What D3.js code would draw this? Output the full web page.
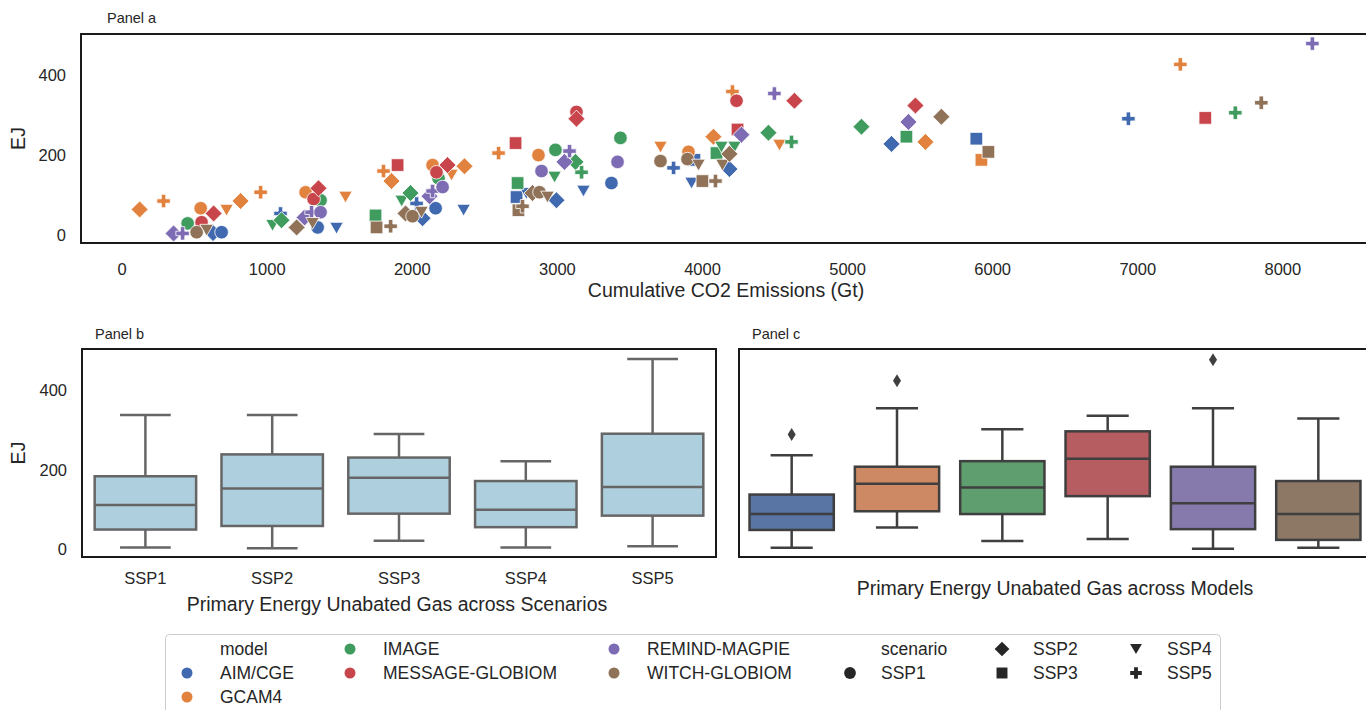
<!DOCTYPE html>
<html>
<head>
<meta charset="utf-8">
<script src="https://cdn.jsdelivr.net/npm/d3@7"></script>
<style>
  body { margin: 0; background: #fff; }
  text { font-family: "Liberation Sans", Arial, sans-serif; fill: #262626; }
</style>
</head>
<body>
<div id="chart"></div>
<script>
// categories
const modelNames = ['AIM/CGE', 'GCAM4', 'IMAGE', 'MESSAGE-GLOBIOM', 'REMIND-MAGPIE', 'WITCH-GLOBIOM']
const scenarioNames = ['SSP1', 'SSP2', 'SSP3', 'SSP4', 'SSP5']

// panel a points: [scenario, cumulative CO2 (Gt), gas (EJ)]
const aimCGE = [
  ['SSP2', 630, 6], ['SSP1', 689, 8], ['SSP5', 1095, 55], ['SSP1', 1351, 20], ['SSP4', 1481, 18],
  ['SSP5', 2033, 80], ['SSP2', 2074, 43], ['SSP1', 2164, 68], ['SSP4', 2357, 63], ['SSP3', 2722, 96],
  ['SSP4', 2790, 105], ['SSP2', 2997, 88], ['SSP4', 3183, 111], ['SSP1', 3376, 131], ['SSP5', 3804, 169],
  ['SSP3', 3948, 189], ['SSP4', 3928, 131], ['SSP2', 4189, 166], ['SSP2', 5306, 229], ['SSP3', 5891, 242],
  ['SSP5', 6939, 292]
]
const gcam4 = [
  ['SSP2', 124, 65], ['SSP5', 289, 86], ['SSP1', 545, 68], ['SSP4', 723, 63], ['SSP2', 820, 86],
  ['SSP5', 958, 108], ['SSP1', 1268, 108], ['SSP4', 1543, 96], ['SSP5', 1805, 161], ['SSP2', 1860, 136],
  ['SSP1', 2143, 176], ['SSP4', 2274, 151], ['SSP2', 2363, 173], ['SSP5', 2598, 206], ['SSP1', 2873, 201],
  ['SSP4', 3714, 221], ['SSP1', 3907, 209], ['SSP2', 4079, 247], ['SSP5', 4210, 360], ['SSP4', 4534, 226],
  ['SSP2', 5540, 234], ['SSP3', 5926, 189], ['SSP5', 7297, 428]
]
const image = [
  ['SSP1', 455, 30], ['SSP4', 1040, 25], ['SSP2', 1102, 38], ['SSP1', 1371, 88], ['SSP3', 1750, 50],
  ['SSP4', 1930, 86], ['SSP2', 1991, 106], ['SSP1', 2184, 143], ['SSP3', 2729, 131], ['SSP1', 2990, 214],
  ['SSP4', 2984, 146], ['SSP2', 3128, 184], ['SSP5', 3170, 158], ['SSP1', 3438, 244], ['SSP3', 4100, 206],
  ['SSP4', 4134, 221], ['SSP4', 4224, 221], ['SSP2', 4458, 257], ['SSP5', 4617, 234], ['SSP2', 5099, 272],
  ['SSP3', 5409, 247], ['SSP5', 7676, 307]
]
const messageGlobiom = [
  ['SSP1', 551, 33], ['SSP2', 634, 55], ['SSP1', 1323, 91], ['SSP2', 1357, 118], ['SSP3', 1902, 176],
  ['SSP1', 2170, 158], ['SSP2', 2246, 176], ['SSP3', 2715, 231], ['SSP1', 3135, 309], ['SSP2', 3135, 292],
  ['SSP3', 4245, 265], ['SSP1', 4238, 337], ['SSP2', 4637, 337], ['SSP2', 5471, 325], ['SSP3', 7469, 294]
]
const remindMagpie = [
  ['SSP2', 358, 5], ['SSP5', 420, 5], ['SSP2', 1261, 45], ['SSP5', 1309, 58], ['SSP1', 1371, 58],
  ['SSP2', 2122, 98], ['SSP5', 2143, 111], ['SSP1', 2212, 121], ['SSP1', 2894, 161], ['SSP2', 3052, 184],
  ['SSP5', 3087, 211], ['SSP1', 3418, 184], ['SSP2', 4272, 252], ['SSP5', 4499, 355], ['SSP2', 5423, 284],
  ['SSP5', 8207, 480]
]
const witchGlobiom = [
  ['SSP1', 517, 8], ['SSP4', 586, 13], ['SSP2', 1206, 20], ['SSP4', 1316, 30], ['SSP3', 1757, 20],
  ['SSP5', 1854, 23], ['SSP2', 1957, 55], ['SSP1', 2005, 48], ['SSP4', 2067, 58], ['SSP3', 2735, 63],
  ['SSP5', 2763, 73], ['SSP2', 2832, 106], ['SSP1', 2880, 108], ['SSP4', 2935, 96], ['SSP1', 3714, 186],
  ['SSP1', 3900, 191], ['SSP4', 3976, 176], ['SSP3', 4003, 136], ['SSP5', 4093, 136], ['SSP4', 4141, 176],
  ['SSP2', 4189, 204], ['SSP2', 5650, 297], ['SSP3', 5974, 209], ['SSP5', 7855, 332]
]
const modelPoints = [aimCGE, gcam4, image, messageGlobiom, remindMagpie, witchGlobiom]

// panel b box stats by scenario (EJ)
const scenLow = [5, 3, 22, 5, 8]
const scenQ1 = [50, 59, 90, 56, 85]
const scenMed = [112, 153, 180, 100, 157]
const scenQ3 = [184, 239, 231, 172, 291]
const scenHigh = [338, 338, 290, 222, 479]

// panel c box stats by model (EJ)
const modelLow = [4, 55, 21, 26, 2, 4]
const modelQ1 = [49, 96, 89, 134, 51, 24]
const modelMed = [89, 165, 156, 228, 116, 89]
const modelQ3 = [138, 208, 222, 297, 208, 172]
const modelHigh = [237, 355, 302, 336, 355, 329]
const modelOutliers = [[289], [424], [], [], [477], []]

// ticks
const xTicksA = [0, 1000, 2000, 3000, 4000, 5000, 6000, 7000, 8000]
const yTicks = [0, 200, 400]

const scatterColors = ['#4069b0', '#e2823f', '#3f9b5e', '#c8454c', '#7d6cb4', '#8f7258']
const boxColors = ['#5975a4', '#cc8963', '#5f9e6e', '#b55d60', '#857aab', '#8d7866']

const W = 1366, H = 710
const svg = d3.select('#chart').append('svg').attr('width', W).attr('height', H)

const pa = {left: 81, right: 1371, top: 34, bottom: 243}
const pb = {left: 82, right: 716, top: 349, bottom: 557}
const pc = {left: 739, right: 1371, top: 349, bottom: 557}

const xA = d3.scaleLinear().domain([-280, 8611]).range([pa.left, pa.right])
const yA = d3.scaleLinear().domain([-19, 504]).range([pa.bottom, pa.top])
const yB = d3.scaleLinear().domain([-19, 504]).range([pb.bottom, pb.top])
const xB = d3.scaleBand().domain(scenarioNames).range([pb.left, pb.right])
const xC = d3.scaleBand().domain(modelNames).range([pc.left, pc.right])

// marker shapes like seaborn's style markers
function marker(scen, k) {
  k = k || 1
  if (scen == 'SSP1') return {d: d3.symbol(d3.symbolCircle, 145 * k)(), rot: 0, dy: 0}
  if (scen == 'SSP2') return {d: d3.symbol(d3.symbolSquare, 145 * k)(), rot: 45, dy: 0}
  if (scen == 'SSP3') return {d: d3.symbol(d3.symbolSquare, 160 * k)(), rot: 0, dy: 0}
  if (scen == 'SSP4') {
    let s = 80 * k
    return {d: d3.symbol(d3.symbolTriangle, s)(), rot: 180, dy: -Math.sqrt(s / (3 * Math.sqrt(3))) / 2}
  }
  return {d: d3.symbol(d3.symbolCross, 100 * k)(), rot: 0, dy: 0}
}

// ---------- Panel a ----------
const gA = svg.append('g')
const pts = []
modelPoints.forEach((arr, i) => arr.forEach(p => pts.push({model: i, scen: p[0], x: p[1], y: p[2]})))

gA.selectAll('path.pt')
  .data(pts)
  .enter().append('path')
  .attr('class', 'pt')
  .attr('d', d => marker(d.scen).d)
  .attr('transform', d => {
    let m = marker(d.scen)
    return `translate(${xA(d.x)},${yA(d.y) + m.dy}) rotate(${m.rot})`
  })
  .attr('fill', d => scatterColors[d.model])
  .attr('stroke', 'white')
  .attr('stroke-width', 0.8)

gA.append('g')
  .attr('transform', `translate(0,${pa.bottom})`)
  .call(d3.axisBottom(xA).tickValues(xTicksA).tickSize(0).tickPadding(20).tickFormat(d3.format('d')))
  .call(g => g.select('.domain').remove())
  .selectAll('text').attr('font-size', 16.5).attr('fill', '#262626')

gA.append('g')
  .attr('transform', `translate(${pa.left},0)`)
  .call(d3.axisLeft(yA).tickValues(yTicks).tickSize(0).tickPadding(15))
  .call(g => g.select('.domain').remove())
  .selectAll('text').attr('font-size', 16.5).attr('fill', '#262626')

gA.append('rect')
  .attr('x', pa.left).attr('y', pa.top)
  .attr('width', pa.right - pa.left).attr('height', pa.bottom - pa.top)
  .attr('fill', 'none').attr('stroke', '#1a1a1a').attr('stroke-width', 2)

gA.append('text').text('Panel a').attr('x', 107).attr('y', 23).attr('font-size', 14.5)
gA.append('text').text('Cumulative CO2 Emissions (Gt)')
  .attr('x', (pa.left + pa.right) / 2).attr('y', 297).attr('text-anchor', 'middle').attr('font-size', 19.5)
gA.append('text').text('EJ')
  .attr('transform', `translate(25,${(pa.top + pa.bottom) / 2}) rotate(-90)`)
  .attr('text-anchor', 'middle').attr('font-size', 19.5)

// ---------- Panel b ----------
const gB = svg.append('g')
const bw = xB.bandwidth() * 0.8
const boxB = gB.selectAll('g.box')
  .data(scenarioNames)
  .enter().append('g')
  .attr('class', 'box')
  .attr('stroke', '#666').attr('stroke-width', 2.5)

boxB.append('line')
  .attr('x1', d => xB(d) + xB.bandwidth() / 2).attr('x2', d => xB(d) + xB.bandwidth() / 2)
  .attr('y1', (d, i) => yB(scenLow[i])).attr('y2', (d, i) => yB(scenQ1[i]))
boxB.append('line')
  .attr('x1', d => xB(d) + xB.bandwidth() / 2).attr('x2', d => xB(d) + xB.bandwidth() / 2)
  .attr('y1', (d, i) => yB(scenQ3[i])).attr('y2', (d, i) => yB(scenHigh[i]))
boxB.append('line')
  .attr('x1', d => xB(d) + xB.bandwidth() / 2 - bw / 4).attr('x2', d => xB(d) + xB.bandwidth() / 2 + bw / 4)
  .attr('y1', (d, i) => yB(scenLow[i])).attr('y2', (d, i) => yB(scenLow[i]))
boxB.append('line')
  .attr('x1', d => xB(d) + xB.bandwidth() / 2 - bw / 4).attr('x2', d => xB(d) + xB.bandwidth() / 2 + bw / 4)
  .attr('y1', (d, i) => yB(scenHigh[i])).attr('y2', (d, i) => yB(scenHigh[i]))
boxB.append('rect')
  .attr('x', d => xB(d) + xB.bandwidth() / 2 - bw / 2).attr('width', bw)
  .attr('y', (d, i) => yB(scenQ3[i])).attr('height', (d, i) => yB(scenQ1[i]) - yB(scenQ3[i]))
  .attr('fill', '#aecfdd')
boxB.append('line')
  .attr('x1', d => xB(d) + xB.bandwidth() / 2 - bw / 2).attr('x2', d => xB(d) + xB.bandwidth() / 2 + bw / 2)
  .attr('y1', (d, i) => yB(scenMed[i])).attr('y2', (d, i) => yB(scenMed[i]))

gB.append('g')
  .attr('transform', `translate(0,${pb.bottom})`)
  .call(d3.axisBottom(xB).tickSize(0).tickPadding(15))
  .call(g => g.select('.domain').remove())
  .selectAll('text').attr('font-size', 16.5).attr('fill', '#262626')

gB.append('g')
  .attr('transform', `translate(${pb.left},0)`)
  .call(d3.axisLeft(yB).tickValues(yTicks).tickSize(0).tickPadding(15))
  .call(g => g.select('.domain').remove())
  .selectAll('text').attr('font-size', 16.5).attr('fill', '#262626')

gB.append('rect')
  .attr('x', pb.left).attr('y', pb.top)
  .attr('width', pb.right - pb.left).attr('height', pb.bottom - pb.top)
  .attr('fill', 'none').attr('stroke', '#1a1a1a').attr('stroke-width', 2)

gB.append('text').text('Panel b').attr('x', 95).attr('y', 339).attr('font-size', 14.5)
gB.append('text').text('Primary Energy Unabated Gas across Scenarios')
  .attr('x', (pb.left + pb.right) / 2 - 2).attr('y', 611).attr('text-anchor', 'middle').attr('font-size', 19.5)
gB.append('text').text('EJ')
  .attr('transform', `translate(25,${(pb.top + pb.bottom) / 2}) rotate(-90)`)
  .attr('text-anchor', 'middle').attr('font-size', 19.5)

// ---------- Panel c ----------
const gC = svg.append('g')
const cw = xC.bandwidth() * 0.8
const boxC = gC.selectAll('g.box')
  .data(modelNames)
  .enter().append('g')
  .attr('class', 'box')
  .attr('stroke', '#3f3f3f').attr('stroke-width', 2.5)
const cx = d => xC(d) + xC.bandwidth() / 2

boxC.append('line')
  .attr('x1', cx).attr('x2', cx)
  .attr('y1', (d, i) => yB(modelLow[i])).attr('y2', (d, i) => yB(modelQ1[i]))
boxC.append('line')
  .attr('x1', cx).attr('x2', cx)
  .attr('y1', (d, i) => yB(modelQ3[i])).attr('y2', (d, i) => yB(modelHigh[i]))
boxC.append('line')
  .attr('x1', d => cx(d) - cw / 4).attr('x2', d => cx(d) + cw / 4)
  .attr('y1', (d, i) => yB(modelLow[i])).attr('y2', (d, i) => yB(modelLow[i]))
boxC.append('line')
  .attr('x1', d => cx(d) - cw / 4).attr('x2', d => cx(d) + cw / 4)
  .attr('y1', (d, i) => yB(modelHigh[i])).attr('y2', (d, i) => yB(modelHigh[i]))
boxC.append('rect')
  .attr('x', d => cx(d) - cw / 2).attr('width', cw)
  .attr('y', (d, i) => yB(modelQ3[i])).attr('height', (d, i) => yB(modelQ1[i]) - yB(modelQ3[i]))
  .attr('fill', (d, i) => boxColors[i])
boxC.append('line')
  .attr('x1', d => cx(d) - cw / 2).attr('x2', d => cx(d) + cw / 2)
  .attr('y1', (d, i) => yB(modelMed[i])).attr('y2', (d, i) => yB(modelMed[i]))

const outl = []
modelOutliers.forEach((arr, i) => arr.forEach(v => outl.push({m: modelNames[i], v: v})))
gC.selectAll('path.out')
  .data(outl)
  .enter().append('path')
  .attr('class', 'out')
  .attr('d', 'M0,-6.5L4,0L0,6.5L-4,0Z')
  .attr('transform', d => `translate(${cx(d.m)},${yB(d.v)})`)
  .attr('fill', '#3f3f3f')

gC.append('rect')
  .attr('x', pc.left).attr('y', pc.top)
  .attr('width', pc.right - pc.left).attr('height', pc.bottom - pc.top)
  .attr('fill', 'none').attr('stroke', '#1a1a1a').attr('stroke-width', 2)

gC.append('text').text('Panel c').attr('x', 752).attr('y', 339).attr('font-size', 14.5)
gC.append('text').text('Primary Energy Unabated Gas across Models')
  .attr('x', (pc.left + pc.right) / 2).attr('y', 595).attr('text-anchor', 'middle').attr('font-size', 19.5)

// ---------- Legend ----------
const gL = svg.append('g')
gL.append('rect')
  .attr('x', 165.5).attr('y', 634.5).attr('width', 1055).attr('height', 100).attr('rx', 4)
  .attr('fill', 'white').attr('stroke', '#cccccc').attr('stroke-width', 1)

const legendItems = [{label: 'model'}]
  .concat(modelNames.map((m, i) => ({label: m, color: scatterColors[i]})))
  .concat([{label: 'scenario'}])
  .concat(scenarioNames.map(s => ({label: s, scen: s})))

const colText = [220, 383, 647, 881, 1033, 1167]
const rowY = [649, 673, 697]
legendItems.forEach((d, i) => {
  // first column holds 3 entries, the rest 2
  let col = i < 3 ? 0 : 1 + Math.floor((i - 3) / 2)
  let row = i < 3 ? i : (i - 3) % 2
  d.tx = colText[col]
  d.ty = rowY[row]
})

gL.selectAll('text.lt')
  .data(legendItems)
  .enter().append('text')
  .attr('class', 'lt')
  .attr('x', d => d.tx).attr('y', d => d.ty)
  .attr('dy', '0.35em')
  .attr('font-size', 17.5)
  .text(d => d.label)

gL.selectAll('circle.lm')
  .data(legendItems.filter(d => d.color))
  .enter().append('circle')
  .attr('class', 'lm')
  .attr('cx', d => d.tx - 33).attr('cy', d => d.ty)
  .attr('r', 5.5)
  .attr('fill', d => d.color)

gL.selectAll('path.ls')
  .data(legendItems.filter(d => d.scen))
  .enter().append('path')
  .attr('class', 'ls')
  .attr('d', d => marker(d.scen, 0.75).d)
  .attr('transform', d => {
    let m = marker(d.scen, 0.75)
    return `translate(${d.tx - 31},${d.ty + m.dy}) rotate(${m.rot})`
  })
  .attr('fill', '#262626')
</script>
</body>
</html>
